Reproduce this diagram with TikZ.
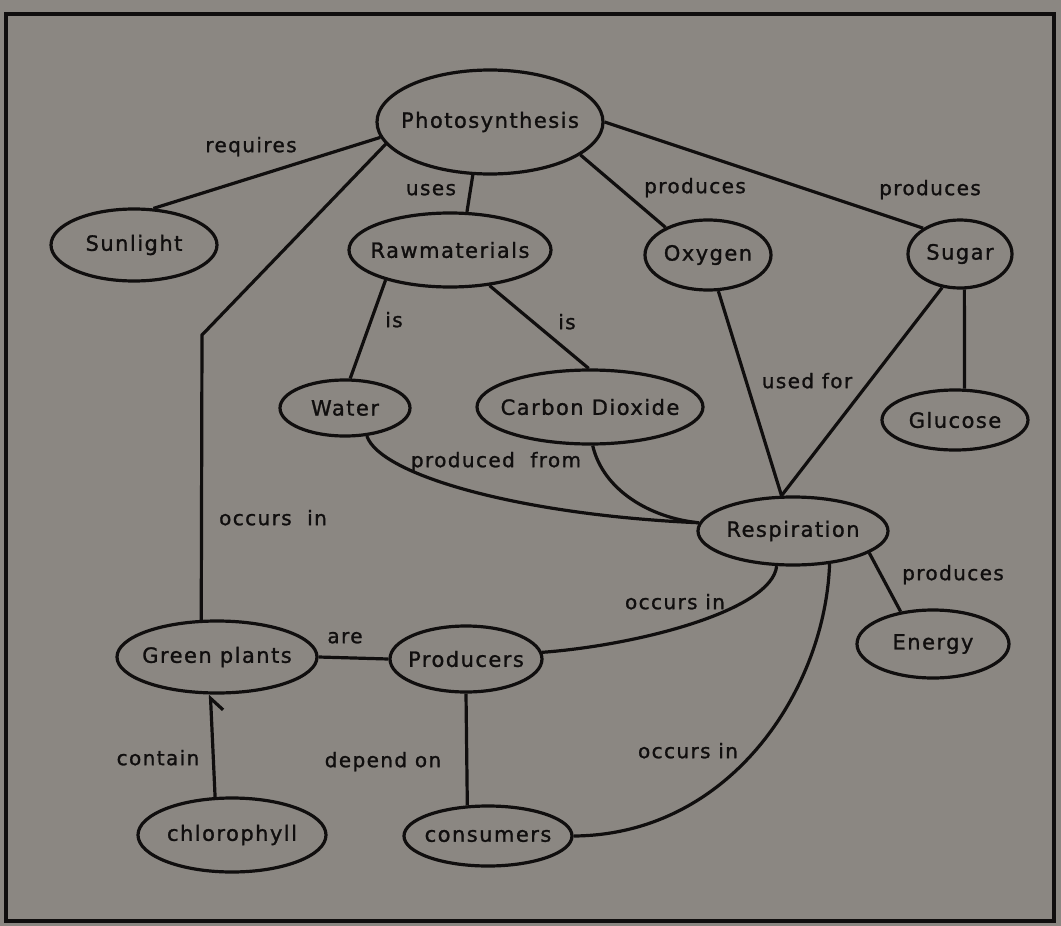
\documentclass[tikz,border=0pt]{standalone}
\usepackage{fontspec}
\newfontfamily\cmfont[LetterSpace=7,FakeBold=1.2]{DejaVu Sans}
\usetikzlibrary{shapes.geometric,arrows.meta}
\definecolor{bg}{RGB}{139,135,130}
\definecolor{ink}{RGB}{16,14,14}
\newcommand{\ztext}[1]{\makebox[0pt]{#1}}
\begin{document}
\begin{tikzpicture}[x=1pt,y=-1pt,
  concept/.style={ellipse,draw=ink,line width=3.2pt,inner sep=0pt,font=\cmfont\fontsize{21}{25}\selectfont,text=ink},
  link/.style={draw=ink,line width=3.2pt},
  lab/.style={font=\cmfont\fontsize{20}{24}\selectfont,text=ink,inner sep=1pt,anchor=mid}]
\fill[bg] (0,0) rectangle (1061,926);
\useasboundingbox (0,0) rectangle (1061,926);
\draw[ink,line width=3.5pt] (6,14) rectangle (1054,921);

% concepts
\node[concept,minimum width=226pt,minimum height=104pt] (photo) at (490,122) {\ztext{Photosynthesis}};
\node[concept,minimum width=166pt,minimum height=72pt] (sun) at (134,245) {\ztext{Sunlight}};
\node[concept,minimum width=202pt,minimum height=74pt] (raw) at (450,250) {\ztext{Rawmaterials}};
\node[concept,minimum width=126pt,minimum height=70pt] (oxy) at (708,255) {\ztext{Oxygen}};
\node[concept,minimum width=104pt,minimum height=68pt] (sugar) at (960,254) {\ztext{Sugar}};
\node[concept,minimum width=130pt,minimum height=56pt] (water) at (345,408) {\ztext{Water}};
\node[concept,minimum width=226pt,minimum height=74pt] (co2) at (590,407) {\ztext{Carbon Dioxide}};
\node[concept,minimum width=146pt,minimum height=60pt] (glucose) at (955,420) {\ztext{Glucose}};
\node[concept,minimum width=190pt,minimum height=68pt] (resp) at (793,531) {\ztext{Respiration}};
\node[concept,minimum width=152pt,minimum height=68pt] (energy) at (933,644) {\ztext{Energy}};
\node[concept,minimum width=200pt,minimum height=72pt] (green) at (217,657) {\ztext{Green plants}};
\node[concept,minimum width=152pt,minimum height=66pt] (prod) at (466,659) {\ztext{Producers}};
\node[concept,minimum width=188pt,minimum height=74pt] (chloro) at (232,835) {\ztext{chlorophyll}};
\node[concept,minimum width=168pt,minimum height=60pt] (cons) at (488,836) {\ztext{consumers}};

% connectors
\coordinate (gbend) at (202,335);
\draw[link] (photo.188) -- (sun.62);
\draw[link] (photo.192) -- (gbend) -- (green.113);
\draw[link] (photo.252) -- (raw.66);
\draw[link] (photo.340) -- (oxy.147);
\draw[link] (photo.0) -- (sugar.145);
\draw[link] (raw.205) -- (water.80);
\draw[link] (raw.318) -- (co2.92);
\draw[link] (oxy.286) -- (resp.108);
\draw[link] (sugar.242) -- (resp.108);
\draw[link] (sugar.-83) -- (glucose.73);
\draw[link] (water.-52) .. controls (380,475) and (520,515) .. (resp.175);
\draw[link] (co2.-86) .. controls (603,490) and (650,518) .. (resp.175);
\draw[link] (resp.-16) -- (energy.135);
\draw[link] (resp.245) .. controls (772,610) and (640,645) .. (prod.5);
\draw[link] (resp.-42) .. controls (825,690) and (730,835) .. (cons.0);
\draw[link] (green.0) -- (prod.180);
\draw[link,-{Straight Barb[right,length=12pt,width=24pt]}] (chloro.114) -- (green.260);
\draw[link] (prod.270) -- (cons.124);

% link labels
\node[lab] (lrequires) at (251,150) {requires};
\node[lab] (loccurs1) at (273,523) {occurs\ \ in};
\node[lab] (luses) at (431,193) {uses};
\node[lab] (lprod1) at (695,191) {produces};
\node[lab] (lprod2) at (930,193) {produces};
\node[lab] (lis1) at (394,325) {is};
\node[lab] (lis2) at (567,327) {is};
\node[lab] (lused) at (807,386) {used for};
\node[lab] (lfrom) at (496,465) {produced\ \ from};
\node[lab] (lprod3) at (953,578) {produces};
\node[lab] (loccurs2) at (675,607) {occurs in};
\node[lab] (loccurs3) at (688,756) {occurs in};
\node[lab] (lare) at (345,641) {are};
\node[lab] (lcontain) at (158,763) {contain};
\node[lab] (ldepend) at (383,765) {depend on};
\end{tikzpicture}
\end{document}
